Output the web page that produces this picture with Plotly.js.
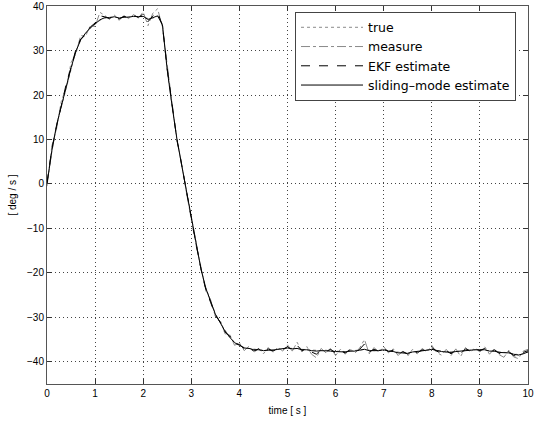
<!DOCTYPE html>
<html>
<head>
<meta charset="utf-8">
<script src="https://cdn.plot.ly/plotly-3.0.1.min.js"></script>
<style>html,body{margin:0;padding:0;background:#fff;}#chart{width:536px;height:422px;}</style>
</head>
<body>
<div id="chart"></div>
<script>
var time = [0,0.1,0.2,0.3,0.4,0.5,0.6,0.7,0.8,0.9,1,1.1,1.2,1.3,1.4,1.5,1.6,1.7,1.8,1.9,2,2.1,2.2,2.3,2.4,2.5,2.6,2.7,2.8,2.9,3,3.1,3.2,3.3,3.4,3.5,3.6,3.7,3.8,3.9,4,4.1,4.2,4.3,4.4,4.5,4.6,4.7,4.8,4.9,5,5.1,5.2,5.3,5.4,5.5,5.6,5.7,5.8,5.9,6,6.1,6.2,6.3,6.4,6.5,6.6,6.7,6.8,6.9,7,7.1,7.2,7.3,7.4,7.5,7.6,7.7,7.8,7.9,8,8.1,8.2,8.3,8.4,8.5,8.6,8.7,8.8,8.9,9,9.1,9.2,9.3,9.4,9.5,9.6,9.7,9.8,9.9,10];

var trueRate = [0,7.2,13.2,17.5,21.8,26.0,29.9,32.3,33.8,35.0,35.9,36.8,37.3,37.5,37.5,37.4,37.5,37.6,37.6,37.7,37.6,37.2,37.3,37.7,36.0,25.5,17.5,10.3,4.3,-1.5,-7.8,-13.5,-19.0,-23.3,-26.5,-29.2,-31.2,-33.0,-34.5,-35.6,-36.3,-36.8,-37.0,-37.2,-37.3,-37.4,-37.4,-37.3,-37.2,-37.0,-36.9,-37.0,-37.0,-37.2,-37.3,-37.4,-37.5,-37.5,-37.4,-37.6,-37.6,-37.7,-37.7,-37.6,-37.5,-37.4,-37.2,-37.4,-37.5,-37.4,-37.3,-37.5,-37.7,-37.9,-38.0,-38.0,-37.8,-37.6,-37.5,-37.3,-37.2,-37.4,-37.6,-37.8,-37.8,-37.7,-37.5,-37.4,-37.3,-37.3,-37.3,-37.4,-37.5,-37.6,-37.8,-37.9,-38.0,-38.2,-38.4,-38.2,-37.7];

var measure = [-0.5,8.5,12.5,18.8,21.5,27.3,29.2,33.4,33.2,35.6,35.4,38.6,37.9,37.0,38.0,36.8,37.9,37.2,38.1,37.3,38.7,35.6,38.4,39.4,35.2,26.0,18.2,9.8,4.6,-2.0,-8.0,-13.9,-18.6,-24.0,-26.0,-29.8,-30.6,-33.7,-33.9,-36.3,-35.7,-37.5,-36.5,-37.9,-37.0,-38.2,-36.8,-37.9,-36.7,-37.6,-36.2,-37.6,-35.6,-37.8,-36.6,-38.3,-39.1,-37.0,-38.0,-36.9,-38.6,-37.2,-38.3,-37.0,-38.1,-36.9,-35.0,-38.2,-36.8,-37.9,-36.6,-38.0,-37.1,-38.6,-37.5,-38.7,-37.2,-38.3,-37.0,-37.8,-36.3,-37.9,-38.5,-37.2,-38.6,-37.1,-38.8,-36.8,-37.8,-36.9,-37.8,-36.6,-38.3,-37.0,-38.4,-39.0,-37.4,-38.9,-39.3,-37.6,-37.2];

var ekf = [0.3,7.8,13.0,18.0,22.5,26.2,30.2,32.6,33.5,35.3,36.2,37.8,37.6,37.2,37.7,37.1,37.7,37.4,37.9,37.5,38.2,36.5,37.8,38.6,35.6,26.0,17.8,10.0,4.3,-1.8,-8.2,-13.6,-19.0,-23.7,-26.6,-29.6,-31.0,-33.3,-34.2,-35.9,-36.1,-37.1,-36.8,-37.6,-37.1,-37.8,-37.1,-37.6,-37.0,-37.3,-36.6,-37.3,-36.3,-37.5,-37.0,-37.8,-38.3,-37.3,-37.7,-37.2,-38.1,-37.5,-38.0,-37.3,-37.8,-37.2,-36.0,-37.8,-37.2,-37.6,-37.0,-37.7,-37.4,-38.3,-37.7,-38.3,-37.5,-38.0,-37.3,-37.6,-36.8,-37.6,-38.1,-37.5,-38.2,-37.4,-38.2,-37.1,-37.5,-37.1,-37.5,-37.0,-37.9,-37.3,-38.1,-38.5,-37.7,-38.6,-38.8,-37.9,-37.5];

var sliding = [0,7.4,13.3,17.7,22.0,26.1,29.8,32.4,33.9,35.1,36.0,36.9,37.4,37.4,37.6,37.3,37.5,37.5,37.7,37.6,37.7,37.0,37.4,37.8,35.8,25.6,17.6,10.2,4.2,-1.6,-7.9,-13.5,-19.1,-23.4,-26.6,-29.3,-31.2,-33.1,-34.5,-35.7,-36.3,-36.9,-37.0,-37.3,-37.3,-37.5,-37.4,-37.4,-37.2,-37.1,-36.9,-37.1,-37.0,-37.3,-37.3,-37.5,-37.6,-37.5,-37.5,-37.6,-37.7,-37.7,-37.8,-37.6,-37.6,-37.4,-37.2,-37.5,-37.5,-37.5,-37.3,-37.6,-37.7,-38.0,-38.0,-38.1,-37.8,-37.7,-37.5,-37.4,-37.2,-37.5,-37.7,-37.8,-37.9,-37.7,-37.6,-37.4,-37.4,-37.3,-37.3,-37.3,-37.6,-37.6,-37.9,-38.0,-38.0,-38.3,-38.5,-38.2,-37.8];

var seriesNames = ["true", "measure", "EKF estimate", "sliding\u2013mode estimate"];
var xTickVals = [0,1,2,3,4,5,6,7,8,9,10];
var yTickVals = [-40,-30,-20,-10,0,10,20,30,40];

var traces = [
  {x: time, y: trueRate, name: seriesNames[0], mode: "lines", line: {color: "#8a8a8a", width: 1, dash: "dot"}},
  {x: time, y: measure, name: seriesNames[1], mode: "lines", line: {color: "#8a8a8a", width: 1, dash: "dashdot"}},
  {x: time, y: ekf, name: seriesNames[2], mode: "lines", line: {color: "#000000", width: 1, dash: "dash"}},
  {x: time, y: sliding, name: seriesNames[3], mode: "lines", line: {color: "#000000", width: 1, dash: "solid"}}
];

var axisCommon = {
  showline: true, linecolor: "#555", linewidth: 1, mirror: "ticks",
  ticks: "inside", ticklen: 5, tickcolor: "#333", tickwidth: 1,
  showgrid: true, gridcolor: "#444", gridwidth: 1, griddash: "1px,3px",
  zeroline: false, ticklabeloverflow: "allow",
  tickfont: {family: "Liberation Sans, Arial, sans-serif", size: 10, color: "#000"}
};

var layout = {
  width: 536, height: 422,
  margin: {l: 47, r: 8, t: 6, b: 38},
  paper_bgcolor: "#fff", plot_bgcolor: "#fff",
  showlegend: true,
  legend: {
    x: 0.5156, xanchor: "left", y: 0.985, yanchor: "top",
    bgcolor: "#fff", bordercolor: "#444", borderwidth: 1,
    font: {family: "DejaVu Sans, sans-serif", size: 12.5, color: "#000"},
    itemwidth: 62, tracegroupgap: 0
  },
  xaxis: Object.assign({}, axisCommon, {
    range: [0, 10], tickvals: xTickVals,
    title: {text: "time [ s ]", font: {family: "Liberation Sans, Arial, sans-serif", size: 10, color: "#000"}, standoff: 8}
  }),
  yaxis: Object.assign({}, axisCommon, {
    range: [-45, 40.02], tickvals: yTickVals,
    title: {text: "[ deg / s ]", font: {family: "Liberation Sans, Arial, sans-serif", size: 10, color: "#000"}, standoff: 8}
  })
};

Plotly.newPlot("chart", traces, layout, {displayModeBar: false, staticPlot: true});
</script>
</body>
</html>
